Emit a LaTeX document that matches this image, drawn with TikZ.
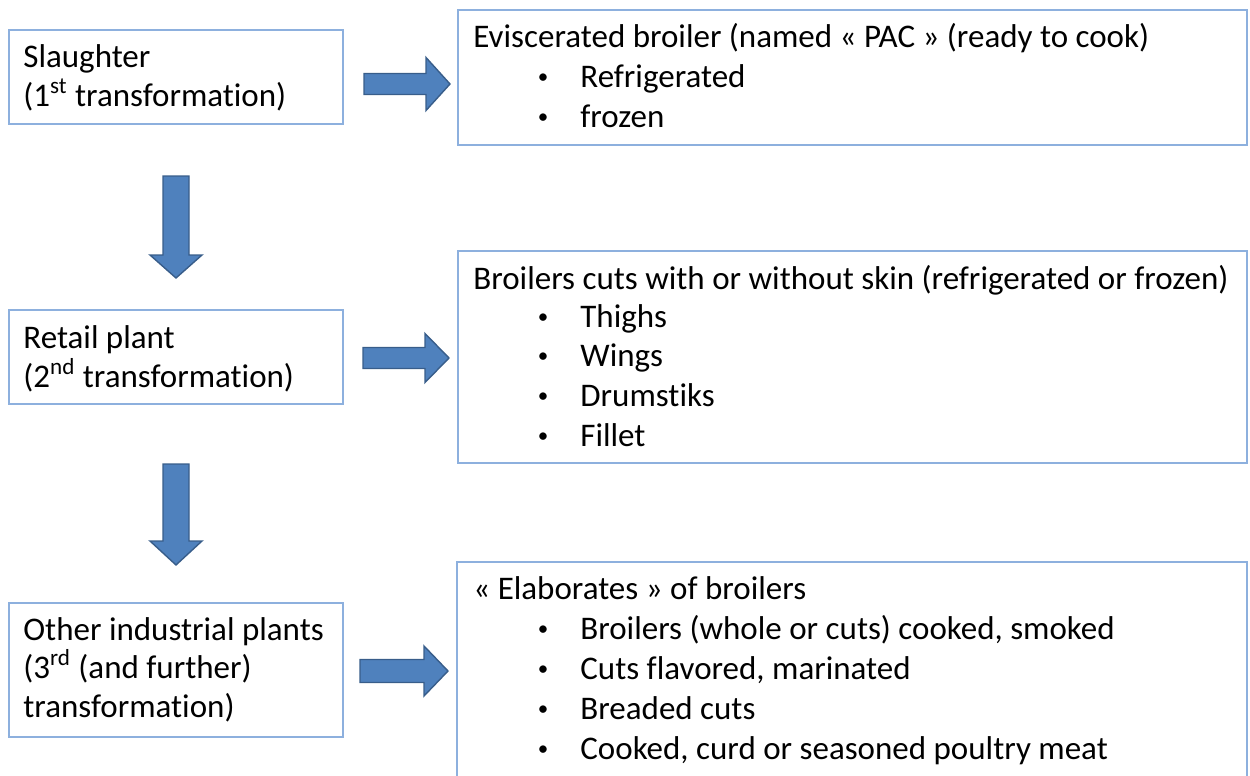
\documentclass[tikz,border=0pt]{standalone}
\usepackage{fontspec}
\setmainfont{Carlito}[Ligatures=NoCommon]
\usetikzlibrary{fit,calc}
\definecolor{boxline}{RGB}{141,176,222}
\definecolor{arrowfill}{RGB}{79,129,189}
\definecolor{arrowline}{RGB}{56,93,138}
\tikzset{
  box/.style={draw=boxline, line width=1pt, inner sep=0pt, fill=white},
  txt/.style={anchor=base west, inner sep=0pt, font=\fontsize{16.5}{20}\selectfont},
  bul/.style={anchor=base, inner sep=0pt, font=\fontsize{10.5}{12}\selectfont},
  barrow/.style={fill=arrowfill, draw=arrowline, line width=0.7pt, line join=miter}
}
\newcommand{\bulletmark}{\raisebox{1.8pt}{•}}
\begin{document}
\begin{tikzpicture}[x=0.5pt,y=-0.5pt]
\useasboundingbox (0,0) rectangle (1250,776);
% corner coordinates
\coordinate (a1) at (9,30);   \coordinate (a2) at (343,124);
\coordinate (b1) at (9,310);  \coordinate (b2) at (343,404);
\coordinate (c1) at (9,603);  \coordinate (c2) at (343,737);
\coordinate (r1) at (458,10);  \coordinate (r2) at (1247,145);
\coordinate (s1) at (458,251); \coordinate (s2) at (1247,463);
\coordinate (t1) at (457,562); \coordinate (t2) at (1247,800);
\node[box, fit=(a1)(a2)] (A) {};
\node[box, fit=(b1)(b2)] (B) {};
\node[box, fit=(c1)(c2)] (C) {};
\node[box, fit=(r1)(r2)] (R1) {};
\node[box, fit=(s1)(s2)] (R2) {};
\node[box, fit=(t1)(t2)] (R3) {};

% left texts
\node[txt] (A1) at (23,68) {Slaughter};
\node[txt] (A2) at (23,106) {(1\textsuperscript{st} transformation)};
\node[txt] (B1) at (23,348) {Retail plant};
\node[txt] (B2) at (23,387) {(2\textsuperscript{nd} transformation)};
\node[txt] (C1) at (23,640) {Other industrial plants};
\node[txt] (C2) at (23,678) {(3\textsuperscript{rd} (and further)};
\node[txt] (C3) at (23,717) {transformation)};

% right box 1
\node[txt] (R1t) at (473,47) {Eviscerated broiler (named « PAC » (ready to cook)};
\node[bul] (R1b1) at (543,87) {\bulletmark};  \node[txt] (R1i1) at (580,87) {Refrigerated};
\node[bul] (R1b2) at (543,127) {\bulletmark}; \node[txt] (R1i2) at (580,127) {frozen};

% right box 2
\node[txt] (R2t) at (473,289) {Broilers cuts with or without skin (refrigerated or frozen)};
\node[bul] (R2b1) at (543,327) {\bulletmark}; \node[txt] (R2i1) at (580,327) {Thighs};
\node[bul] (R2b2) at (543,366) {\bulletmark}; \node[txt] (R2i2) at (580,366) {Wings};
\node[bul] (R2b3) at (543,406) {\bulletmark}; \node[txt] (R2i3) at (580,406) {Drumstiks};
\node[bul] (R2b4) at (543,446) {\bulletmark}; \node[txt] (R2i4) at (580,446) {Fillet};

% right box 3
\node[txt] (R3t) at (473,599) {« Elaborates » of broilers};
\node[bul] (R3b1) at (543,639) {\bulletmark}; \node[txt] (R3i1) at (580,639) {Broilers (whole or cuts) cooked, smoked};
\node[bul] (R3b2) at (543,679) {\bulletmark}; \node[txt] (R3i2) at (580,679) {Cuts flavored, marinated};
\node[bul] (R3b3) at (543,719) {\bulletmark}; \node[txt] (R3i3) at (580,719) {Breaded cuts};
\node[bul] (R3b4) at (543,759) {\bulletmark}; \node[txt] (R3i4) at (580,759) {Cooked, curd or seasoned poultry meat};

% right block arrows (from left boxes towards right boxes)
\draw[barrow] ($(A.east |- 0,84)+(20,-10.5)$) -- ++(62,0) -- ++(0,-16) -- ++(24,26.5) -- ++(-24,26.5) -- ++(0,-16) -- ++(-62,0) -- cycle;
\draw[barrow] ($(B.east |- 0,358)+(19,-10.5)$) -- ++(62,0) -- ++(0,-14) -- ++(24,24.5) -- ++(-24,24.5) -- ++(0,-14) -- ++(-62,0) -- cycle;
\draw[barrow] ($(C.east |- 0,671)+(16,-11.5)$) -- ++(64,0) -- ++(0,-13.5) -- ++(24,25) -- ++(-24,25) -- ++(0,-13.5) -- ++(-64,0) -- cycle;

% down block arrows
\draw[barrow] ($(A.south -| 176,0)+(-13,51)$) -- ++(0,79) -- ++(-13,0) -- ++(26,23) -- ++(26,-23) -- ++(-13,0) -- ++(0,-79) -- cycle;
\draw[barrow] ($(B.south -| 176,0)+(-13,59)$) -- ++(0,77) -- ++(-13,0) -- ++(26,24) -- ++(26,-24) -- ++(-13,0) -- ++(0,-77) -- cycle;
\end{tikzpicture}
\end{document}
